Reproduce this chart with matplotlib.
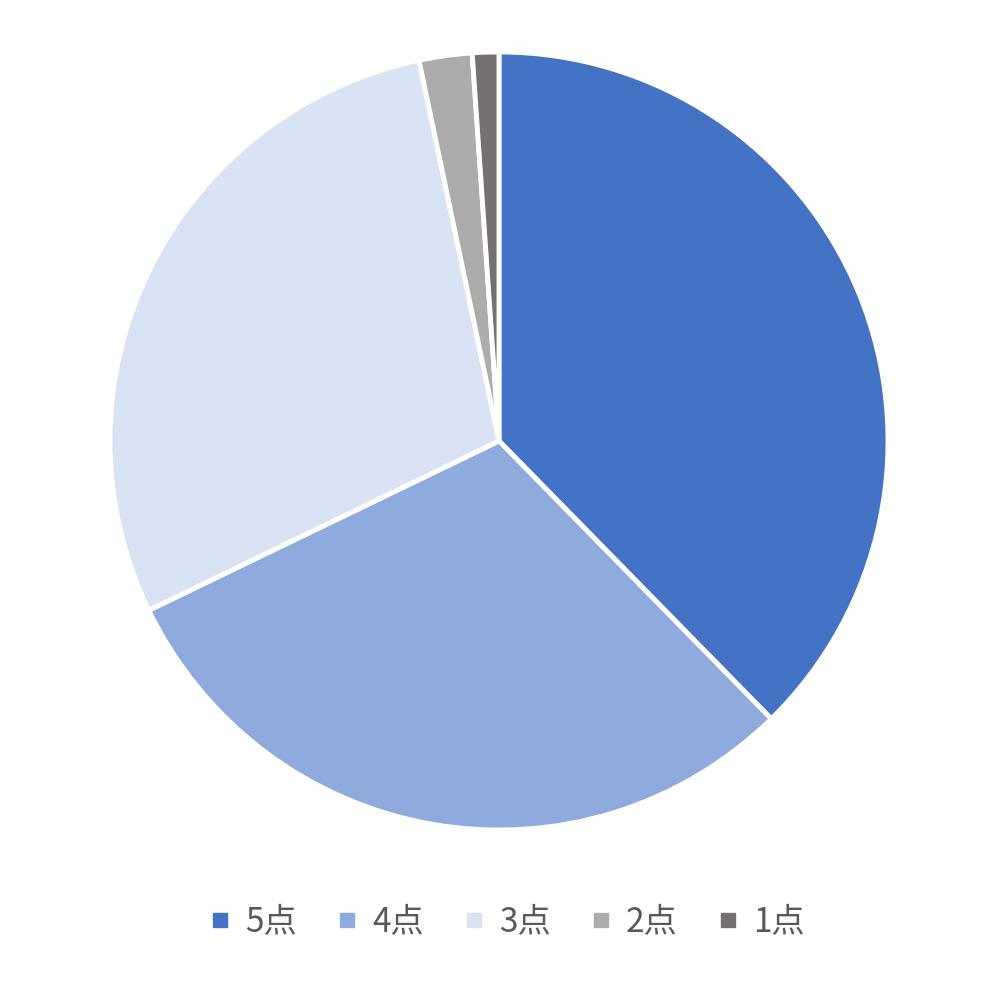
import matplotlib.pyplot as plt
from matplotlib.lines import Line2D

plt.rcParams['font.family'] = ['Noto Sans CJK JP', 'DejaVu Sans']

# ── data ─────────────────────────────────────────────────────────────────────
labels = ['5点', '4点', '3点', '2点', '1点']
shares = [37.7, 30.2, 28.9, 2.2, 1.1]
colors = ['#4472C4', '#8FAADC', '#DAE3F3', '#AEABAB', '#767171']

# ── plot ─────────────────────────────────────────────────────────────────────
fig = plt.figure(figsize=(9.98, 9.9), dpi=100)
ax = fig.add_axes([0.1102, 0.1616, 0.7796, 0.7859])

ax.pie(shares, colors=colors, startangle=90, counterclock=False,
       radius=1.0,
       wedgeprops=dict(edgecolor='white', linewidth=3.5))
ax.set_xlim(-1, 1)
ax.set_ylim(-1, 1)
ax.set_aspect('equal')

handles = [Line2D([], [], marker='s', linestyle='none', markersize=10,
                  markerfacecolor=c, markeredgecolor=c) for c in colors]
fig.legend(handles, labels, loc='center', bbox_to_anchor=(0.506, 0.069),
           ncol=5, frameon=False, fontsize=24, labelcolor='#595959',
           handletextpad=0.3, columnspacing=1.05, handlelength=0.9)

fig.savefig('out.png', dpi=100)
